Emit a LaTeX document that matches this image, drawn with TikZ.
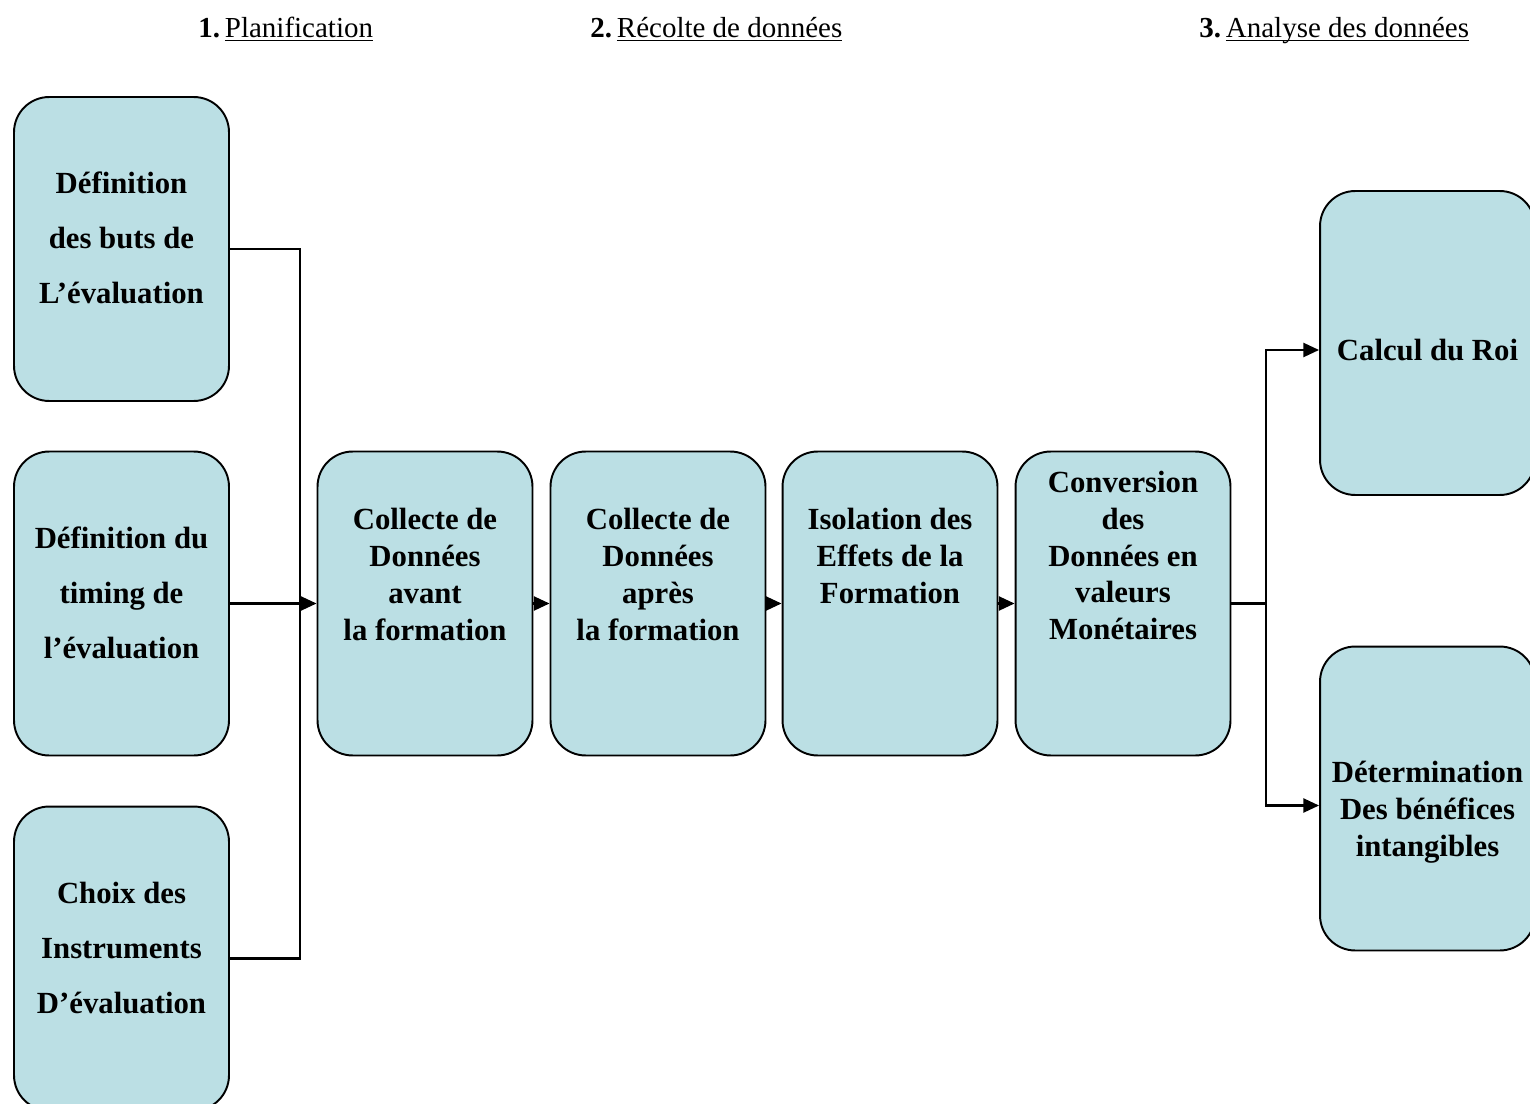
\documentclass[tikz,border=0pt]{standalone}
\usepackage{fontspec}
\setmainfont{Liberation Serif}
\usetikzlibrary{calc,arrows.meta}
\definecolor{boxblue}{RGB}{187,223,228}
\newcommand{\phaseline}[1]{\underline{\raisebox{0pt}[\height][0pt]{#1}}}
\tikzset{
	stepbox/.style={draw=black, line width=1.1pt, fill=boxblue, rounded corners=20pt, minimum width=4.3cm, minimum height=6.08cm, inner sep=0pt},
	boxtext/.style={font=\fontsize{17.5}{21}\selectfont\bfseries, align=center, inner sep=0pt},
	widetext/.style={font=\fontsize{17.5}{31.3}\selectfont\bfseries, align=center, inner sep=0pt},
	phase/.style={font=\fontsize{16.5}{20}\selectfont, anchor=base west, inner sep=0pt},
	link/.style={line width=1.4pt},
	flow/.style={line width=1.4pt, -{Triangle[length=9pt,width=8pt]}}
}

\begin{document}
\begin{tikzpicture}[x=0.02cm, y=-0.02cm]
			%%%%% START %%%%%
			
			\useasboundingbox (0, 0) rectangle (1530, 1104);
			\clip (0, 0) rectangle (1530, 1104);
			
			% phases
			\node[phase] (h1) at (198, 38) {\textbf{1.}\,\phaseline{Planification}};
			\node[phase] (h2) at (590, 38) {\textbf{2.}\,\phaseline{Récolte de données}};
			\node[phase] (h3) at (1199, 38) {\textbf{3.}\,\phaseline{Analyse des données}};
			
			% planification
			\node[stepbox] (b1) at (121.5, 249) {};
			\node[stepbox] (b2) at (121.5, 603.5) {};
			\node[stepbox] (b3) at (121.5, 958.5) {};
			\node[widetext] (t1) at (121.5, 238) {Définition\\des buts de\\L’évaluation};
			\node[widetext] (t2) at (121.5, 593) {Définition du\\timing de\\l’évaluation};
			\node[widetext] (t3) at (121.5, 948) {Choix des\\Instruments\\D’évaluation};
			
			% recolte
			\node[stepbox] (c1) at (425, 603.5) {};
			\node[stepbox] (c2) at (658, 603.5) {};
			\node[stepbox] (c3) at (890, 603.5) {};
			\node[stepbox] (c4) at (1123, 603.5) {};
			\node[boxtext] (t4) at (425, 574.5) {Collecte de\\Données\\avant\\la formation};
			\node[boxtext] (t5) at (658, 574.5) {Collecte de\\Données\\après\\la formation};
			\node[boxtext] (t6) at (890, 556) {Isolation des\\Effets de la\\Formation};
			\node[boxtext] (t7) at (1123, 555.5) {Conversion\\des\\Données en\\valeurs\\Monétaires};
			
			% analyse
			\node[stepbox] (r1) at (1427.5, 343) {};
			\node[stepbox] (r2) at (1427.5, 798.5) {};
			\node[boxtext] (t8) at (1427.5, 350) {Calcul du Roi};
			\node[boxtext] (t9) at (1427.5, 812.5) {Détermination\\Des bénéfices\\intangibles};
			
			% connectors
			\coordinate (busL) at (300, 603.5);
			\draw[link] (b1.east) -| (busL);
			\draw[link] (b3.east) -| (busL);
			\draw[flow] (b2.east) -- (c1.west);
			\draw[flow] (c1.east) -- (c2.west);
			\draw[flow] (c2.east) -- (c3.west);
			\draw[flow] (c3.east) -- (c4.west);
			
			\coordinate (busR) at (1266, 603.5);
			\draw[link] (c4.east) -- (busR);
			\draw[flow] (busR) |- ($(r1.west)+(0, 7)$);
			\draw[flow] (busR) |- ($(r2.west)+(0, 7)$);
			
			%%%%% END %%%%%
\end{tikzpicture}
\end{document}
